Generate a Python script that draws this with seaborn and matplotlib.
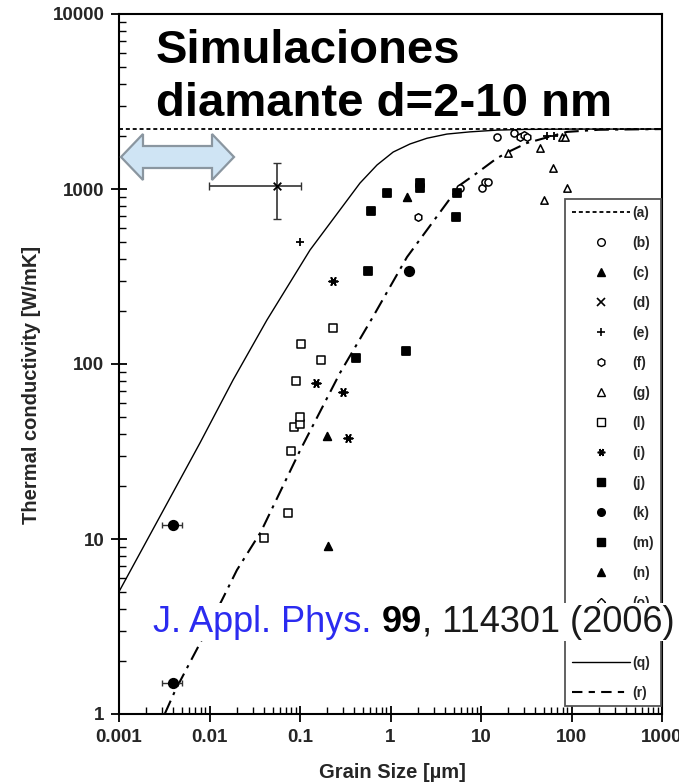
import numpy as np
import pandas as pd
import matplotlib
matplotlib.use("Agg")
import matplotlib.pyplot as plt
import seaborn as sns
from matplotlib.lines import Line2D
from matplotlib.patches import Polygon
from matplotlib.offsetbox import TextArea, HPacker, AnnotationBbox
from matplotlib.ticker import FixedLocator, FixedFormatter, LogLocator, NullFormatter

sns.set_theme(style="white")
plt.rcParams['font.family'] = ['Liberation Sans', 'DejaVu Sans']

# ---------------- data ----------------
bulk_x = [0.001, 1000]
bulk_y = [2200, 2200]

model_q_x = [0.001, 0.00785, 0.0182, 0.043, 0.129, 0.46, 0.71, 1.07, 1.64, 2.53, 4.2, 7.5, 15, 30, 100, 1000]
model_q_y = [5.0, 35.4, 81, 178, 448, 1081, 1372, 1626, 1808, 1950, 2060, 2120, 2170, 2190, 2200, 2200]

model_r_x = [0.0032, 0.0042, 0.0079, 0.0138, 0.0201, 0.037, 0.1, 0.277, 0.64, 1.52, 5.87, 9.0, 15, 21, 32, 89, 200, 1000]
model_r_y = [1.0, 1.37, 2.55, 4.5, 6.65, 11, 32, 89, 186, 408, 1054, 1233, 1500, 1648, 1830, 2120, 2180, 2200]

b_x = [15, 23, 10.2, 11.1, 11.9, 5.87]
b_y = [1980, 2090, 1014, 1096, 1096, 1014]
c_x = [1.52]
c_y = [900]
d_x = [0.0557]
d_y = [1040]
d_xlo, d_xhi = [0.00986], [0.1026]
d_ylo, d_yhi = [675], [1409]
e_x = [0.1, 53, 64]
e_y = [498, 2010, 2010]
f_x = [2.0, 27, 29.5, 32]
f_y = [692, 1980, 2040, 1980]
g_x = [19.9, 45, 62.5, 89, 49.7, 79, 85]
g_y = [1607, 1715, 1318, 1013, 865, 1980, 1990]
l_x = [0.040, 0.074, 0.080, 0.086, 0.1, 0.1, 0.090, 0.1026, 0.17, 0.232]
l_y = [10.1, 14.1, 31.8, 43.6, 45.4, 50, 80, 130, 105, 161]
i_x = [0.232, 0.150, 0.299, 0.339]
i_y = [298, 78, 69, 37.8]
j_x = [0.91, 0.61, 2.12, 2.12, 0.564]
j_y = [950, 748, 1081, 1014, 340]
k_x = [0.004, 0.004, 1.6]
k_y = [12.0, 1.5, 340]
k_xlo = [0.003, 0.003, 1.6]
k_xhi = [0.005, 0.005, 1.6]
m_x = [5.43, 5.3, 0.416, 1.48]
m_y = [948, 692, 108, 119]
n_x = [0.2, 0.204]
n_y = [39, 9.1]

x_ticks = [0.001, 0.01, 0.1, 1, 10, 100, 1000]
x_ticklabels = ['0.001', '0.01', '0.1', '1', '10', '100', '1000']
y_ticks = [1, 10, 100, 1000, 10000]
y_ticklabels = ['1', '10', '100', '1000', '10000']

legend_labels = ['(a)', '(b)', '(c)', '(d)', '(e)', '(f)', '(g)', '(l)', '(i)',
                 '(j)', '(k)', '(m)', '(n)', '(o)', '(p)', '(q)', '(r)']

# ---------------- figure ----------------
W, H = 679, 782
fig = plt.figure(figsize=(W / 100, H / 100), dpi=100)
ax = fig.add_axes([119 / W, 1 - 714 / H, 543 / W, 700 / H])
ax.set_xscale('log')
ax.set_yscale('log')
ax.set_xlim(0.001, 1000)
ax.set_ylim(1, 10000)

# lines
sns.lineplot(x=bulk_x, y=bulk_y, ax=ax, color='black', lw=1.3,
             linestyle=(0, (2.2, 1.6)), estimator=None, sort=False)
sns.lineplot(x=model_q_x, y=model_q_y, ax=ax, color='black', lw=1.0,
             estimator=None, sort=False)
sns.lineplot(x=model_r_x, y=model_r_y, ax=ax, color='black', lw=1.5,
             linestyle=(0, (7, 3, 1.5, 3)), estimator=None, sort=False)

# error bars
ax.errorbar(d_x, d_y,
            xerr=[np.array(d_x) - np.array(d_xlo), np.array(d_xhi) - np.array(d_x)],
            yerr=[np.array(d_y) - np.array(d_ylo), np.array(d_yhi) - np.array(d_y)],
            fmt='none', ecolor='#333333', elinewidth=1.2, capsize=3, zorder=3)
ax.errorbar(k_x[:2], k_y[:2],
            xerr=[np.array(k_x[:2]) - np.array(k_xlo[:2]), np.array(k_xhi[:2]) - np.array(k_x[:2])],
            fmt='none', ecolor='#333333', elinewidth=1.0, capsize=2, zorder=3)

asterisk = (6, 2, 90)
series = [
    (b_x, b_y, 'o', 'white', 26),
    (c_x, c_y, '^', 'black', 30),
    (d_x, d_y, 'x', 'black', 30),
    (e_x, e_y, '+', 'black', 30),
    (f_x, f_y, 'h', 'white', 30),
    (g_x, g_y, '^', 'white', 28),
    (l_x, l_y, 's', 'white', 28),
    (i_x, i_y, asterisk, 'black', 36),
    (j_x, j_y, 's', 'black', 32),
    (k_x, k_y, 'o', 'black', 46),
    (m_x, m_y, 's', 'black', 32),
    (n_x, n_y, '^', 'black', 30),
]
for sx, sy, mk, fc, sz in series:
    lw = 1.1 if fc == 'white' else 1.3
    if mk in ('x', '+') or mk == asterisk:
        sns.scatterplot(x=sx, y=sy, ax=ax, marker=mk, color='black', s=sz,
                        linewidth=1.3, legend=False, zorder=4)
    else:
        sns.scatterplot(x=sx, y=sy, ax=ax, marker=mk, facecolor=fc, edgecolor='black',
                        s=sz, linewidth=lw, legend=False, zorder=4)

# axes styling
for sp in ax.spines.values():
    sp.set_color('black')
    sp.set_linewidth(1.5)
ax.xaxis.set_major_locator(FixedLocator(x_ticks))
ax.xaxis.set_major_formatter(FixedFormatter(x_ticklabels))
ax.yaxis.set_major_locator(FixedLocator(y_ticks))
ax.yaxis.set_major_formatter(FixedFormatter(y_ticklabels))
ax.xaxis.set_minor_locator(LogLocator(base=10, subs=np.arange(2, 10), numticks=20))
ax.yaxis.set_minor_locator(LogLocator(base=10, subs=np.arange(2, 10), numticks=20))
ax.xaxis.set_minor_formatter(NullFormatter())
ax.yaxis.set_minor_formatter(NullFormatter())
ax.tick_params(which='major', direction='inout', length=11, width=1.3, color='black',
               labelsize=13.5, pad=5, bottom=True, left=True, top=False, right=False)
ax.tick_params(which='minor', direction='in', length=5, width=1.0, color='black',
               bottom=True, left=True, top=False, right=False)
for lab in ax.get_xticklabels() + ax.get_yticklabels():
    lab.set_fontweight('bold')
ax.grid(False)

fig.text(32 / W, 1 - 385 / H, 'Thermal conductivity [W/mK]', rotation=90,
         fontsize=14.5, fontweight='bold', ha='center', va='center')
fig.text(392 / W, 1 - 772 / H, 'Grain Size [µm]', fontsize=14.5, fontweight='bold',
         ha='center', va='center')

# arrow annotation (axes fraction)
def af(px, py):
    return ((px - 119) / 543, (714 - py) / 700)
arrow_pts = [af(121, 157), af(143, 134), af(143, 146), af(212, 146), af(212, 134),
             af(234, 157), af(212, 180), af(212, 168), af(143, 168), af(143, 180)]
ax.add_patch(Polygon(arrow_pts, closed=True, transform=ax.transAxes,
                     facecolor='#cfe4f4', edgecolor='#8a96a0', lw=1.6, zorder=6,
                     clip_on=False))

# legend
hl = []
hl.append(Line2D([], [], color='black', lw=1.3, ls=(0, (2.2, 1.6))))
def mh(mk, fc, ms=5.5):
    if mk in ('x', '+') or mk == asterisk:
        return Line2D([], [], ls='none', marker=mk, color='black', ms=ms, mew=1.2)
    return Line2D([], [], ls='none', marker=mk, mfc=fc, mec='black', ms=ms, mew=1.0)
hl += [mh('o', 'white'), mh('^', 'black'), mh('x', 'black'), mh('+', 'black'),
       mh('h', 'white'), mh('^', 'white'), mh('s', 'white'), mh(asterisk, 'black'),
       mh('s', 'black'), mh('o', 'black'), mh('s', 'black'), mh('^', 'black'),
       mh('D', 'white', 4.5), mh('v', 'white', 4.5)]
hl.append(Line2D([], [], color='black', lw=1.0))
hl.append(Line2D([], [], color='black', lw=1.5, ls=(0, (5, 3, 3, 3))))
leg = ax.legend(hl, legend_labels, loc='upper right',
                bbox_to_anchor=((661 - 119) / 543, (714 - 199) / 700),
                frameon=True, fancybox=False, edgecolor='#555555', framealpha=1,
                prop=dict(weight='bold', size=10), handlelength=4.2, handletextpad=0.15,
                labelspacing=1.15, borderpad=0.5, borderaxespad=0)
leg.get_frame().set_linewidth(1.3)
leg.set_zorder(5)

# title text
fig.text(156 / W, 1 - 63 / H, 'Simulaciones', fontsize=34, fontweight='bold',
         color='black', va='baseline', ha='left')
fig.text(156 / W, 1 - 116 / H, 'diamante d=2-10 nm', fontsize=34, fontweight='bold',
         color='black', va='baseline', ha='left')

# citation
fs_c = 26
ta1 = TextArea('J. Appl. Phys.', textprops=dict(color='#2b2bf0', fontsize=fs_c))
ta2 = TextArea('99', textprops=dict(color='black', fontsize=fs_c, fontweight='bold'))
ta3 = TextArea(', 114301 (2006)', textprops=dict(color='#1a1a1a', fontsize=fs_c))
inner = HPacker(children=[ta1, ta2], sep=0.278 * fs_c, pad=0, align='baseline')
box = HPacker(children=[inner, ta3], sep=0, pad=0, align='baseline')
ab = AnnotationBbox(box, (153 / W, 1 - 622 / H), xycoords='figure fraction',
                    box_alignment=(0, 0.5), frameon=True, pad=0.1,
                    bboxprops=dict(facecolor='white', edgecolor='none'))
ab.set_zorder(20)
ax.add_artist(ab)

fig.savefig('out.png', dpi=100, facecolor='white')
